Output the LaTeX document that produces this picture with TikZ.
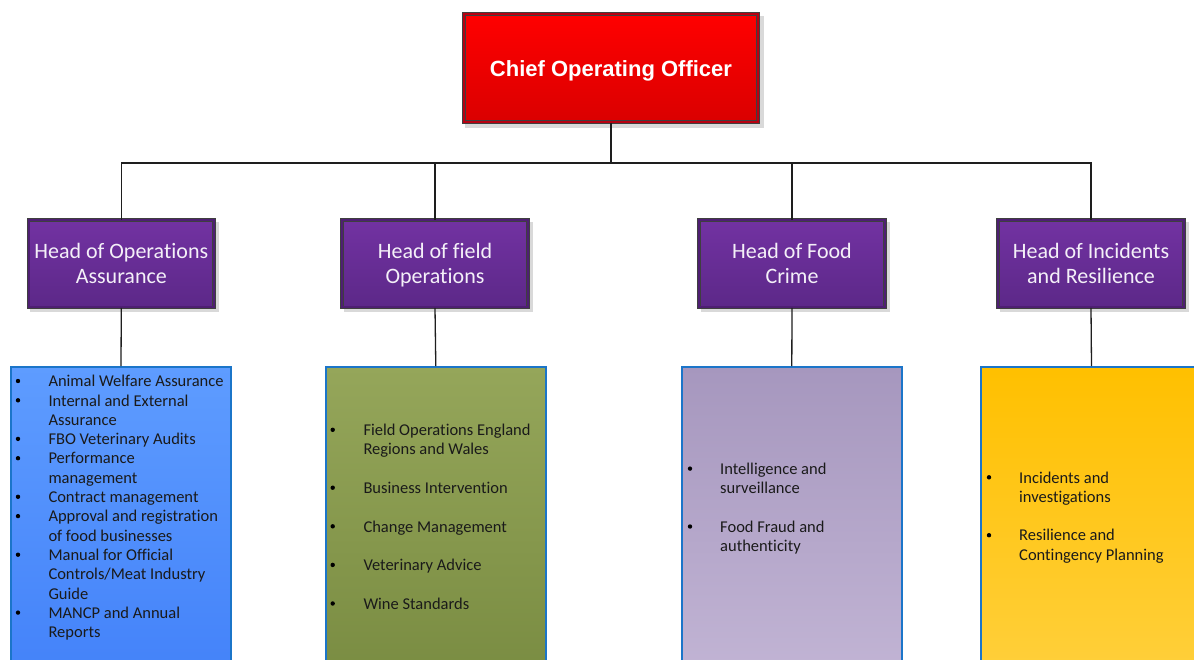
\documentclass[tikz,border=0pt]{standalone}
\usepackage{fontspec}
\setmainfont{Carlito}[Ligatures=NoCommon]
\newfontfamily\titlefont{Liberation Sans}
\definecolor{boxline}{HTML}{3F3F3F}
\definecolor{cootop}{HTML}{FF0000}
\definecolor{coobot}{HTML}{DA0000}
\definecolor{cooband}{HTML}{B80010}
\definecolor{purtop}{HTML}{7232A2}
\definecolor{purbot}{HTML}{5C2888}
\definecolor{purband}{HTML}{4E1F72}
\definecolor{headtext}{HTML}{F4F0F8}
\definecolor{listline}{HTML}{1B75C9}
\definecolor{bluetop}{HTML}{5E9CFF}
\definecolor{bluebot}{HTML}{3F7EF8}
\definecolor{greentop}{HTML}{95A65A}
\definecolor{greenbot}{HTML}{75883E}
\definecolor{liltop}{HTML}{A697BE}
\definecolor{lilbot}{HTML}{C6B9D8}
\definecolor{goldtop}{HTML}{FFC000}
\definecolor{goldbot}{HTML}{FFD245}
\definecolor{conncol}{HTML}{1E1E1E}
\definecolor{itemtext}{HTML}{1A1A1A}
\definecolor{shadowcol}{HTML}{D9D9D9}
\begin{document}
\begin{tikzpicture}[x=1pt,y=-1pt,
  coobox/.style={draw=boxline, line width=0.9pt, double=cooband, double distance=2pt,
    top color=cootop, bottom color=coobot, minimum width=294.5pt, minimum height=108pt,
    inner sep=0pt, text depth=0pt, text=white, font=\titlefont\bfseries\fontsize{22}{26}\selectfont},
  headbox/.style={draw=boxline, line width=0.9pt, double=purband, double distance=2pt,
    top color=purtop, bottom color=purbot, minimum width=185.5pt, minimum height=87.2pt,
    inner sep=0pt, text depth=0pt, align=center, text=headtext, font=\fontsize{22}{25}\selectfont},
  listbox/.style={draw=listline, line width=2pt, minimum width=220pt, minimum height=360pt,
    inner sep=0pt, anchor=north},
  shadowbox/.style={fill=shadowcol},
  conn/.style={draw=conncol, line width=1.3pt},
  dot/.style={circle, fill=black, inner sep=0pt, minimum size=4.4pt},
  item/.style={anchor=base west, align=left, inner sep=0pt, text=itemtext,
    font=\fontsize{16.5}{19.3}\selectfont}
]
\useasboundingbox (0,0) rectangle (1194,659);
\clip (0,0) rectangle (1194,659);
\fill[white] (0,0) rectangle (1194,659);

% shadows
\fill[shadowbox] (465,16) rectangle (764,128);
\foreach \cx in {121,435,792,1091}{
  \fill[shadowbox] (\cx-91,222) rectangle (\cx+98,312);
}

% top box
\node[coobox] (coo) at (611,68.2) {Chief Operating Officer};

% heads
\node[headbox] (h1) at (121.3,263.8) {Head of Operations\\Assurance};
\node[headbox] (h2) at (435,263.8) {Head of field\\Operations};
\node[headbox] (h3) at (792,263.8) {Head of Food\\Crime};
\node[headbox] (h4) at (1091,263.8) {Head of Incidents\\and Resilience};

% list boxes
\node[listbox, top color=bluetop, bottom color=bluebot] (c1) at (121,366) {};
\node[listbox, top color=greentop, bottom color=greenbot] (c2) at (435.8,366) {};
\node[listbox, top color=liltop, bottom color=lilbot] (c3) at (791.8,366) {};
\node[listbox, top color=goldtop, bottom color=goldbot, minimum width=221pt] (c4) at (1091.5,366) {};

% connectors
\coordinate (bus) at (611,163);
\draw[conn] (coo.south) -- (bus);
\draw[conn] (bus) -| (h1.north);
\draw[conn] (bus) -| (h2.north);
\draw[conn] (bus) -| (h3.north);
\draw[conn] (bus) -| (h4.north);
\draw[conn] (h1.south) -- (c1.north);
\draw[conn] (h2.south) -- (c2.north);
\draw[conn] (h3.south) -- (c3.north);
\draw[conn] (h4.south) -- (c4.north);

% box 1 items (anchor = baseline of last line)
\node[item] (a1) at (48.3,386.7) {Animal Welfare Assurance};
\node[item] (a2) at (48.3,425.3) {Internal and External\\Assurance};
\node[item] (a3) at (48.3,444.6) {FBO Veterinary Audits};
\node[item] (a4) at (48.3,483.2) {Performance\\management};
\node[item] (a5) at (48.3,502.5) {Contract management};
\node[item] (a6) at (48.3,541.1) {Approval and registration\\of food businesses};
\node[item] (a7) at (48.3,599.0) {Manual for Official\\Controls/Meat Industry\\Guide};
\node[item] (a8) at (48.3,637.6) {MANCP and Annual\\Reports};
\node[dot] (da1) at (18,381.0) {};
\node[dot] (da2) at (18,400.3) {};
\node[dot] (da3) at (18,438.9) {};
\node[dot] (da4) at (18,458.2) {};
\node[dot] (da5) at (18,496.8) {};
\node[dot] (da6) at (18,516.1) {};
\node[dot] (da7) at (18,554.7) {};
\node[dot] (da8) at (18,612.6) {};

% box 2 items
\node[item] (b1) at (363.3,454.8) {Field Operations England\\Regions and Wales};
\node[item] (b2) at (363.3,493.4) {Business Intervention};
\node[item] (b3) at (363.3,532.0) {Change Management};
\node[item] (b4) at (363.3,570.6) {Veterinary Advice};
\node[item] (b5) at (363.3,609.2) {Wine Standards};
\node[dot] (db1) at (332.7,429.8) {};
\node[dot] (db2) at (332.7,487.7) {};
\node[dot] (db3) at (332.7,526.3) {};
\node[dot] (db4) at (332.7,564.9) {};
\node[dot] (db5) at (332.7,603.5) {};

% box 3 items
\node[item] (e1) at (720,493.6) {Intelligence and\\surveillance};
\node[item] (e2) at (720,551.5) {Food Fraud and\\authenticity};
\node[dot] (de1) at (690,468.6) {};
\node[dot] (de2) at (690,526.5) {};

% box 4 items
\node[item] (f1) at (1019,502.3) {Incidents and\\investigations};
\node[item] (f2) at (1019,560.2) {Resilience and\\Contingency Planning};
\node[dot] (df1) at (989,477.3) {};
\node[dot] (df2) at (989,535.2) {};
\end{tikzpicture}
\end{document}
